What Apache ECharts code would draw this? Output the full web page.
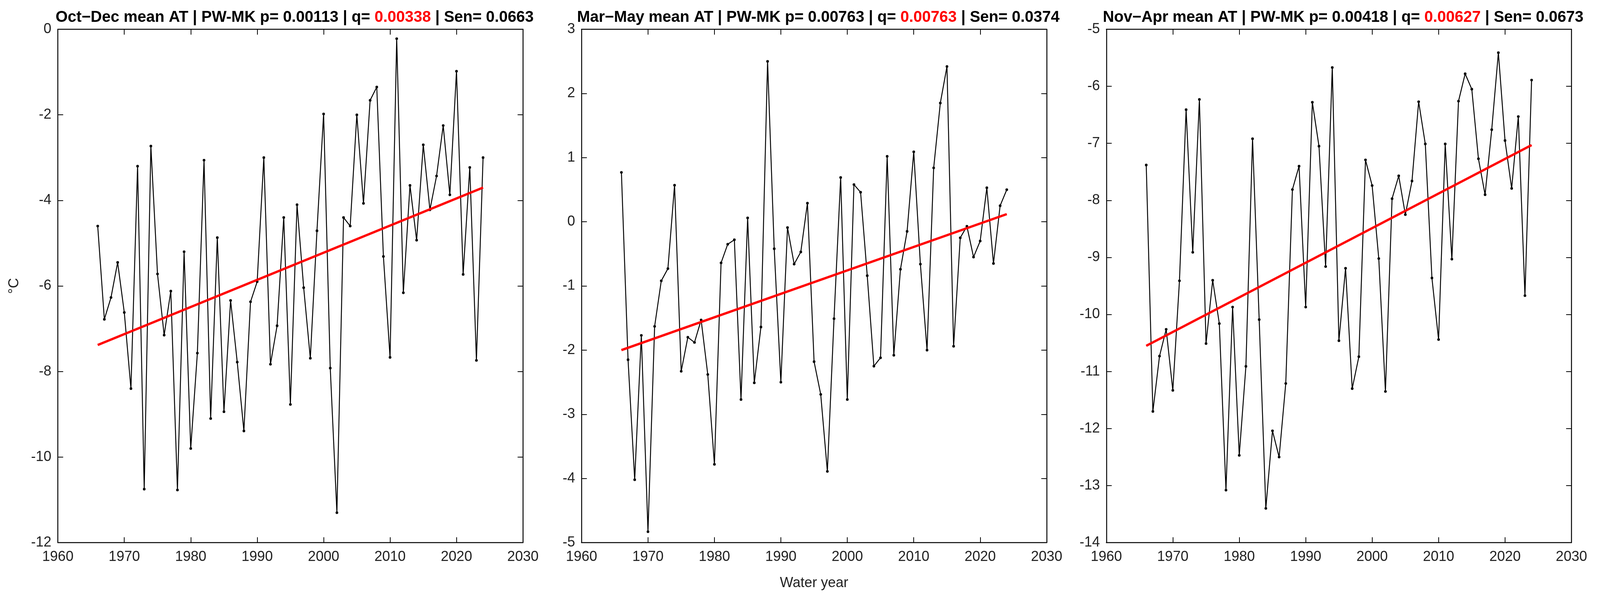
<!DOCTYPE html>
<html>
<head>
<meta charset="utf-8">
<script src="https://cdn.jsdelivr.net/npm/echarts@6/dist/echarts.min.js"></script>
<style>
  html, body { margin: 0; padding: 0; background: #fff; overflow: hidden; }
  #chart { width: 100vw; height: 100vh; }
</style>
</head>
<body>
<div id="chart"></div>
<script>
// --- Données ---
const years = [];
for (let y = 1966; y <= 2024; y++) years.push(y);

const octDec = [-4.6, -6.78, -6.27, -5.45, -6.62, -8.4, -3.2, -10.75, -2.73, -5.72,
  -7.15, -6.12, -10.77, -5.2, -9.8, -7.57, -3.06, -9.1, -4.87, -8.94,
  -6.34, -7.78, -9.39, -6.37, -5.9, -3.0, -7.83, -6.93, -4.4, -8.77,
  -4.1, -6.04, -7.69, -4.71, -1.98, -7.92, -11.3, -4.4, -4.6, -2.0,
  -4.07, -1.66, -1.35, -5.31, -7.67, -0.22, -6.16, -3.65, -4.93, -2.7,
  -4.22, -3.43, -2.25, -3.87, -0.98, -5.73, -3.23, -7.74, -3.0];

const marMay = [0.77, -2.15, -4.02, -1.77, -4.83, -1.63, -0.92, -0.73, 0.57, -2.33,
  -1.8, -1.88, -1.53, -2.38, -3.78, -0.64, -0.35, -0.28, -2.77, 0.06,
  -2.51, -1.64, 2.5, -0.42, -2.5, -0.09, -0.66, -0.47, 0.29, -2.18,
  -2.69, -3.89, -1.51, 0.69, -2.77, 0.58, 0.46, -0.84, -2.25, -2.12,
  1.02, -2.08, -0.74, -0.15, 1.09, -0.66, -2.0, 0.84, 1.85, 2.42,
  -1.94, -0.25, -0.07, -0.55, -0.3, 0.53, -0.65, 0.25, 0.5];

const novApr = [-7.38, -11.7, -10.73, -10.26, -11.33, -9.41, -6.41, -8.91, -6.23, -10.51,
  -9.4, -10.16, -13.08, -9.87, -12.47, -10.91, -6.92, -10.09, -13.4, -12.04,
  -12.5, -11.21, -7.81, -7.4, -9.87, -6.28, -7.05, -9.16, -5.67, -10.46,
  -9.19, -11.3, -10.74, -7.29, -7.74, -9.02, -11.35, -7.97, -7.57, -8.25,
  -7.66, -6.27, -7.01, -9.36, -10.44, -7.01, -9.03, -6.26, -5.78, -6.05,
  -7.27, -7.9, -6.76, -5.41, -6.95, -7.79, -6.53, -9.67, -5.89];

// tendance Sen : [début, fin]
const trendOctDec = [-7.38, -3.7];
const trendMarMay = [-2.0, 0.12];
const trendNovApr = [-10.55, -7.03];

const panelNames = ['Oct\u2212Dec', 'Mar\u2212May', 'Nov\u2212Apr'];
const pValues = ['0.00113', '0.00763', '0.00418'];
const qValues = ['0.00338', '0.00763', '0.00627'];
const senValues = ['0.0663', '0.0374', '0.0673'];
const yRanges = [[-12, 0, 2], [-5, 3, 1], [-14, -5, 1]];

const panels = [octDec, marMay, novApr];
const trends = [trendOctDec, trendMarMay, trendNovApr];

const chartDom = document.getElementById('chart');
const chart = echarts.init(chartDom);

// --- Mise en page (conçue pour 4204 px, mise à l'échelle de la fenêtre) ---
const s = chart.getWidth() / 4204;
const sy = chart.getHeight() / 1537;
const lefts = [152, 1528, 2907].map(v => v * s);
const plotW = 1222 * s;
const plotTop = 75 * sy, plotH = 1315 * sy;
const fs = 37 * s, tfs = 41 * s;
const font = 'Liberation Sans, Arial, sans-serif';

const grids = [], xAxes = [], yAxes = [], series = [], titles = [];

panels.forEach((vals, i) => {
  grids.push({ left: lefts[i], top: plotTop, width: plotW, height: plotH, show: false });
  const tick = { show: true, inside: true, length: 14 * s, lineStyle: { color: '#000', width: 2 * s } };
  const line = { show: true, onZero: false, lineStyle: { color: '#000', width: 2.5 * s } };
  xAxes.push({
    gridIndex: i, type: 'value', min: 1960, max: 2030, interval: 10,
    axisLine: line, axisTick: tick, splitLine: { show: false },
    axisLabel: { color: '#222', fontSize: fs, fontFamily: font, margin: 20 * s, formatter: v => String(v) },
    name: i === 1 ? 'Water year' : '', nameLocation: 'middle', nameGap: 88 * s,
    nameTextStyle: { color: '#222', fontSize: fs, fontFamily: font }
  });
  xAxes.push({
    gridIndex: i, type: 'value', min: 1960, max: 2030, interval: 10, position: 'top',
    axisLine: line, axisTick: tick, axisLabel: { show: false }, splitLine: { show: false }
  });
  yAxes.push({
    gridIndex: i, type: 'value', min: yRanges[i][0], max: yRanges[i][1], interval: yRanges[i][2],
    axisLine: line, axisTick: tick, splitLine: { show: false },
    axisLabel: { color: '#222', fontSize: fs, fontFamily: font, margin: 17 * s },
    name: i === 0 ? '\u00B0C' : '', nameLocation: 'middle', nameGap: 95 * s,
    nameTextStyle: { color: '#222', fontSize: fs, fontFamily: font }
  });
  yAxes.push({
    gridIndex: i, type: 'value', min: yRanges[i][0], max: yRanges[i][1], interval: yRanges[i][2],
    position: 'right', axisLine: line, axisTick: tick, axisLabel: { show: false }, splitLine: { show: false }
  });

  series.push({
    type: 'line', xAxisIndex: i * 2, yAxisIndex: i * 2,
    data: years.map((y, k) => [y, vals[k]]),
    symbol: 'circle', symbolSize: 7 * s, showSymbol: true,
    itemStyle: { color: '#000' }, lineStyle: { color: '#000', width: 2.5 * s },
    animation: false, z: 2
  });
  series.push({
    type: 'line', xAxisIndex: i * 2, yAxisIndex: i * 2,
    data: [[years[0], trends[i][0]], [years[years.length - 1], trends[i][1]]],
    symbol: 'none', lineStyle: { color: '#ff0000', width: 6 * s },
    animation: false, z: 3
  });

  titles.push({
    text: '{b|' + panelNames[i] + ' mean AT | PW-MK p= ' + pValues[i] + ' | q= }{r|' + qValues[i] +
      '}{b| | Sen= ' + senValues[i] + '}',
    left: lefts[i] + plotW / 2 + 6 * s, top: 20 * sy, textAlign: 'center',
    textStyle: {
      rich: {
        b: { fontSize: tfs, fontWeight: 'bold', color: '#000', fontFamily: font },
        r: { fontSize: tfs, fontWeight: 'bold', color: '#ff0000', fontFamily: font }
      }
    }
  });
});

chart.setOption({
  backgroundColor: '#fff',
  animation: false,
  title: titles,
  grid: grids,
  xAxis: xAxes,
  yAxis: yAxes,
  series: series
});
</script>
</body>
</html>
